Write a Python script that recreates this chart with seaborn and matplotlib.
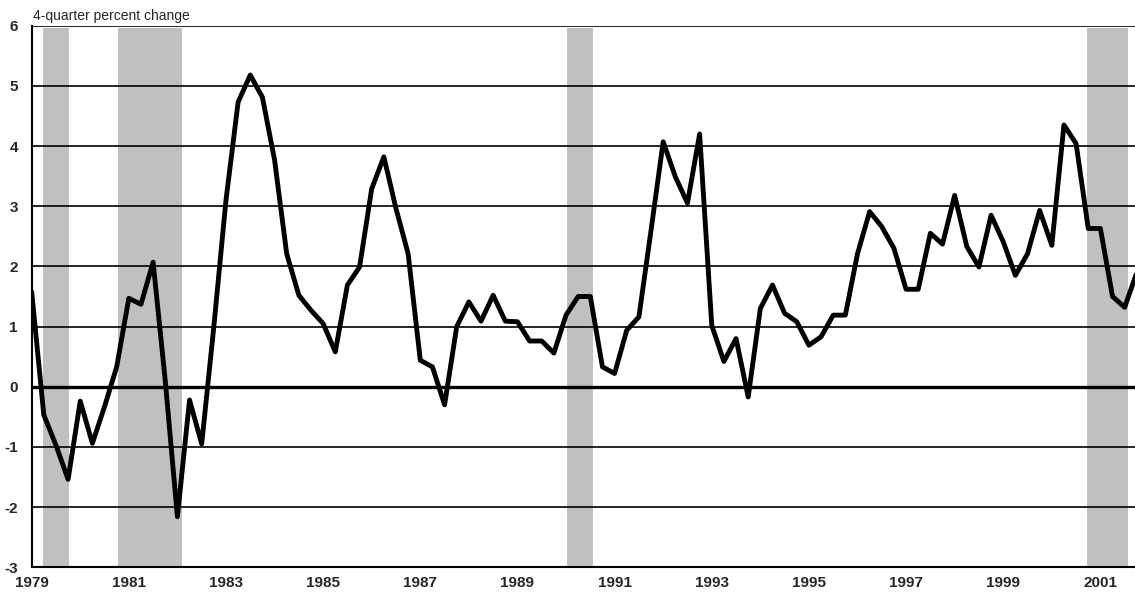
import numpy as np
import pandas as pd
import matplotlib
matplotlib.use('Agg')
import matplotlib.pyplot as plt
import seaborn as sns

# quarterly values, 1979Q1 onward
values = [1.58, -0.47, -0.97, -1.54, -0.24, -0.94, -0.33, 0.33,
          1.47, 1.37, 2.07, 0.1, -2.16, -0.22, -0.95, 1.0,
          3.1, 4.73, 5.18, 4.81, 3.77, 2.21, 1.52, 1.27,
          1.05, 0.58, 1.69, 1.99, 3.29, 3.82, 2.96, 2.21,
          0.44, 0.33, -0.30, 1.0, 1.41, 1.09, 1.52, 1.09,
          1.08, 0.76, 0.76, 0.56, 1.19, 1.50, 1.50, 0.33,
          0.22, 0.94, 1.16, 2.6, 4.07, 3.49, 3.05, 4.2,
          1.02, 0.42, 0.80, -0.17, 1.30, 1.69, 1.22, 1.08,
          0.69, 0.83, 1.19, 1.19, 2.21, 2.91, 2.66, 2.30,
          1.62, 1.62, 2.55, 2.37, 3.18, 2.33, 1.99, 2.85,
          2.41, 1.85, 2.21, 2.93, 2.35, 4.35, 4.04, 2.63,
          2.63, 1.50, 1.32, 1.9]
start_year = 1979
tick_years = list(range(1979, 2002, 2))
# shaded periods, in quarters from 1979Q1
shade_start = [0.95, 7.1, 44.1, 86.9]
shade_end = [3.07, 12.35, 46.2, 90.3]

df = pd.DataFrame({'q': np.arange(len(values)), 'value': values})

sns.set_style('white')
plt.rcParams['font.family'] = ['Liberation Sans', 'DejaVu Sans']

fig = plt.figure(figsize=(11.35, 6.04), dpi=100)
ax = fig.add_axes([0.0279, 0.0608, 0.9721, 0.8967])

for s, e in zip(shade_start, shade_end):
    ax.axvspan(s, e, ymin=0, ymax=0.995, color='#c0c0c0', lw=0, zorder=0)

for y in range(-2, 7):
    ax.axhline(y, color='black', lw=1.2 if y != 0 else 2.4, zorder=1)

sns.lineplot(data=df, x='q', y='value', color='black', lw=3.5, ax=ax, zorder=3)

ax.set_xlim(0, 90.85)
ax.set_ylim(-3, 6)
ax.set_yticks(range(-3, 7))
ax.set_yticklabels([str(v) for v in range(-3, 7)], fontweight='bold', fontsize=11)
ax.set_xticks([(y - start_year) * 4 for y in tick_years])
ax.set_xticklabels([str(y) for y in tick_years], fontweight='bold', fontsize=11)
ax.set_xlabel('')
ax.set_ylabel('')
ax.tick_params(axis='both', direction='out', length=4, width=1.2, color='black')
ax.tick_params(axis='y', pad=6)
ax.tick_params(axis='x', pad=2)

for side in ['top', 'right']:
    ax.spines[side].set_visible(False)
for side in ['left', 'bottom']:
    ax.spines[side].set_color('black')
    ax.spines[side].set_linewidth(1.5)

fig.text(0.0295, 0.962, '4-quarter percent change',
         family=['Liberation Sans Narrow', 'Liberation Sans', 'DejaVu Sans'],
         fontsize=10, va='bottom', ha='left')

fig.savefig('out.png', dpi=100)
